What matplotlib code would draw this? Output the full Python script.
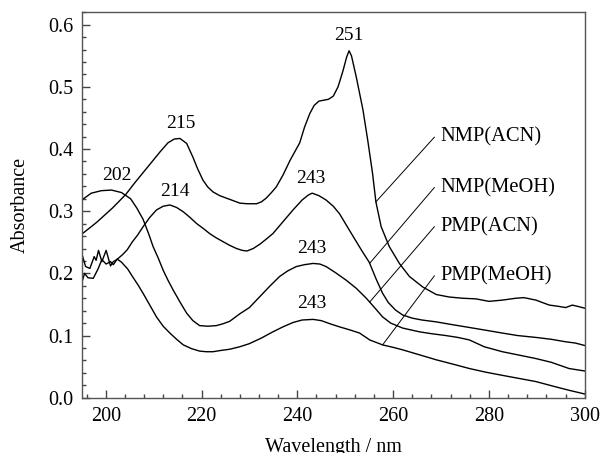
import numpy as np
from matplotlib import pyplot as plt
from matplotlib.ticker import MultipleLocator

plt.rcParams['font.family'] = ['Liberation Serif', 'DejaVu Serif']

# NMP in acetonitrile
nmp_acn_wl = [195, 198.1, 201.4, 204.2, 206, 207.8, 209.5, 211.3, 213, 214.3, 215.5, 216.9, 218.2,
              219.2, 220.3, 221.3, 222.4, 223.8, 225.2, 226.6, 228, 229.5, 231.5, 232.5, 233.5,
              234.6, 235.6, 237, 238.5, 240.5, 241.5, 242.6, 243.5, 244.5, 246.5, 247.5, 248.5,
              249.5, 250.3, 250.8, 251.3, 252.3, 253.7, 254.7, 255.7, 256.4, 257.5, 259.2, 261.3,
              263.4, 266.2, 269, 271.7, 274.5, 277.3, 280, 282.8, 285.6, 287.3, 289.8, 292.6,
              294.5, 296, 297.4, 298.5, 300]
nmp_acn_abs = [0.263, 0.282, 0.305, 0.327, 0.345, 0.362, 0.378, 0.395, 0.41, 0.416, 0.417, 0.409, 0.387,
               0.368, 0.35, 0.339, 0.331, 0.325, 0.321, 0.317, 0.313, 0.312, 0.312, 0.315, 0.321,
               0.33, 0.339, 0.358, 0.382, 0.41, 0.435, 0.457, 0.47, 0.477, 0.48, 0.485, 0.5,
               0.525, 0.548, 0.558, 0.55, 0.516, 0.463, 0.414, 0.361, 0.315, 0.275, 0.243, 0.216,
               0.195, 0.178, 0.166, 0.162, 0.16, 0.159, 0.155, 0.157, 0.16, 0.161, 0.157, 0.149,
               0.147, 0.145, 0.149, 0.147, 0.144]

# NMP in methanol
nmp_meoh_wl = [195, 195.8, 196.7, 197.6, 198.0, 198.5, 199.2, 200.1, 201.0, 201.6, 202.3, 203.5,
               204.5, 205.5, 206.7, 207.8, 209.2, 210.6, 212, 213.4, 214.8, 216.2, 217.6, 219,
               220.4, 221.7, 223.1, 224.5, 225.9, 227.3, 228.5, 229.5, 230.8, 232.2, 233.5, 234.9,
               237, 239.1, 241, 242.3, 243.1, 244.5, 246, 247.5, 248.8, 250.2, 252, 253.5, 255,
               256.5, 257.8, 259, 260.5, 262, 264, 266, 269, 272, 275.9, 279, 282.8, 286, 289.8,
               293, 296, 298, 300]
nmp_meoh_abs = [0.232, 0.211, 0.208, 0.227, 0.221, 0.237, 0.219, 0.237, 0.212, 0.219, 0.222, 0.23,
                0.238, 0.25, 0.262, 0.275, 0.29, 0.302, 0.308, 0.31, 0.306, 0.299, 0.29, 0.28,
                0.272, 0.264, 0.257, 0.251, 0.245, 0.24, 0.237, 0.236, 0.24, 0.247, 0.255, 0.264,
                0.283, 0.302, 0.318, 0.326, 0.329, 0.325, 0.318, 0.308, 0.296, 0.278, 0.255, 0.236, 0.218,
                0.19, 0.168, 0.153, 0.141, 0.133, 0.128, 0.125, 0.122, 0.118, 0.113, 0.109, 0.104, 0.1, 0.097,
                0.094, 0.09, 0.088, 0.084]

# PMP in acetonitrile
pmp_acn_wl = [195, 197, 199.1, 201.2, 203.3, 205.2, 206.5, 207.8, 209, 209.9, 211, 212, 213, 214.1,
              215.5, 216.9, 218.2, 219.6, 221.3, 223.1, 224.5, 225.9, 228, 230, 232.1, 234.2, 236.3,
              238, 239.8, 241.5, 243.3, 244.7, 246, 248, 250.2, 252.3, 254.4, 256, 257.8, 259.5,
              262, 265.5, 268, 271, 273.5, 275.9, 279, 282.8, 286, 289.8, 293, 296.7, 300]
pmp_acn_abs = [0.318, 0.329, 0.333, 0.334, 0.33, 0.32, 0.305, 0.287, 0.263, 0.243, 0.224, 0.205, 0.189, 0.173,
               0.154, 0.136, 0.124, 0.116, 0.115, 0.116, 0.119, 0.123, 0.135, 0.145, 0.162, 0.179, 0.195,
               0.204, 0.211, 0.214, 0.216, 0.215, 0.211, 0.201, 0.189, 0.176, 0.16, 0.146, 0.13, 0.12,
               0.112, 0.106, 0.103, 0.1, 0.097, 0.093, 0.082, 0.074, 0.069, 0.063, 0.057, 0.047, 0.043]

# PMP in methanol
pmp_meoh_wl = [195, 195.6, 196.3, 197.4, 198.4, 199.2, 200.1, 201, 201.6, 202.4, 203.3, 204.6, 205.5,
               206.7, 207.8, 209.2, 210.6, 212, 213.4, 214.8, 216.2, 217.9, 219.6, 221, 222.4, 224,
               225.9, 228, 230, 232.5, 234.9, 237, 239.1, 241, 243.3, 245, 246.8, 248.8, 251, 253,
               255.1, 257.8, 260, 262, 265.5, 269, 272.5, 275.9, 279.4, 282.8, 286.3, 289.8, 293.2,
               296.7, 300]
pmp_meoh_abs = [0.185, 0.2, 0.193, 0.192, 0.207, 0.222, 0.215, 0.219, 0.214, 0.223, 0.218, 0.207, 0.196,
                0.182, 0.168, 0.149, 0.13, 0.115, 0.104, 0.094, 0.085, 0.079, 0.075, 0.074, 0.074, 0.076,
                0.078, 0.082, 0.087, 0.096, 0.106, 0.114, 0.121, 0.125, 0.126, 0.124, 0.119, 0.114, 0.109, 0.104,
                0.093, 0.085, 0.081, 0.077, 0.069, 0.061, 0.054, 0.047, 0.041, 0.036, 0.031, 0.026, 0.019,
                0.012, 0.006]

names = ["NMP(ACN)", "NMP(MeOH)", "PMP(ACN)", "PMP(MeOH)"]
curves = [(nmp_acn_wl, nmp_acn_abs), (nmp_meoh_wl, nmp_meoh_abs),
          (pmp_acn_wl, pmp_acn_abs), (pmp_meoh_wl, pmp_meoh_abs)]

# peak labels: (curve index, label, x of label)
peaks = [(0, "251", 250.8), (0, "215", 215.6), (2, "202", 202.4), (1, "214", 214.4),
         (1, "243", 242.9), (2, "243", 243.1), (3, "243", 243.1)]

# where the pointer of each name touches its curve, and the height of the name
pointer_wl = [256.4, 255.1, 255.1, 257.8]
name_y = [0.419, 0.338, 0.275, 0.196]

fig = plt.figure(figsize=(6.01, 4.53), dpi=100)
ax = fig.add_axes([0.136, 0.122, 0.837, 0.851])

for wl, ab in curves:
    ax.plot(wl, ab, color='black', lw=1.0)

for idx, txt, xl in peaks:
    wl, ab = curves[idx]
    yl = np.interp(xl, wl, ab) + 0.025
    ax.text(xl, yl, txt, ha='center', va='center', fontsize=14)

for i, name in enumerate(names):
    wl, ab = curves[i]
    y0 = np.interp(pointer_wl[i], wl, ab)
    ax.plot([pointer_wl[i], 268.6], [y0, name_y[i]], color='black', lw=0.7)
    ax.text(269.9, name_y[i], name, ha='left', va='center', fontsize=14.8)

ax.set_xlim(195, 300)
ax.set_ylim(0, 0.62)
ax.xaxis.set_major_locator(MultipleLocator(20))
ax.xaxis.set_minor_locator(MultipleLocator(4))
ax.yaxis.set_major_locator(MultipleLocator(0.1))
ax.yaxis.set_minor_locator(MultipleLocator(0.02))
ax.tick_params(which='both', direction='in', top=False, right=False, colors='#444444',
               labelcolor='black', labelsize=14.5)
ax.tick_params(axis='x', pad=7)
ax.tick_params(axis='y', pad=6)
ax.tick_params(which='major', length=6, width=1)
ax.tick_params(which='minor', length=3, width=1)
for sp in ax.spines.values():
    sp.set_color('#555555')
    sp.set_linewidth(1)

ax.set_xlabel("Wavelength / nm", fontsize=14.5, labelpad=8)
ax.set_ylabel("Absorbance", fontsize=14.5, labelpad=13)

fig.savefig("out.png", dpi=100)
plt.close()
